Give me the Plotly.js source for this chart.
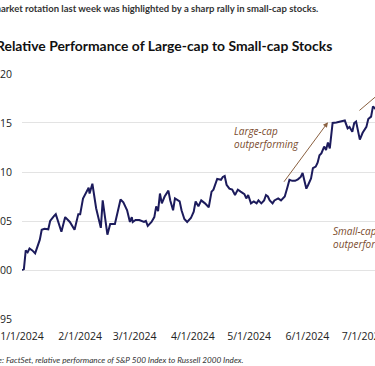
<!DOCTYPE html>
<html>
<head>
<meta charset="utf-8">
<script src="https://cdn.plot.ly/plotly-3.0.1.min.js"></script>
<style>
  html, body { margin: 0; padding: 0; background: #ffffff; overflow: hidden; }
  #chart { width: 375px; height: 366px; }
</style>
</head>
<body>
<div id="chart"></div>
<script>
// Relative performance (S&P 500 / Russell 2000), indexed to 100
const dates = [
  '2024-01-01','2024-01-02','2024-01-03','2024-01-04','2024-01-05','2024-01-06 12:00','2024-01-08','2024-01-09 12:00',
  '2024-01-10 12:00','2024-01-11 12:00','2024-01-13','2024-01-15','2024-01-16','2024-01-18','2024-01-19','2024-01-22',
  '2024-01-24','2024-01-26 12:00','2024-01-29','2024-01-31','2024-02-01','2024-02-02 12:00','2024-02-04','2024-02-05 12:00',
  '2024-02-06','2024-02-07 12:00','2024-02-09 12:00','2024-02-12','2024-02-13','2024-02-15 12:00','2024-02-17','2024-02-19 12:00',
  '2024-02-22 12:00','2024-02-24','2024-02-26','2024-02-27 12:00','2024-02-28 12:00','2024-02-29','2024-03-01 12:00','2024-03-03 12:00',
  '2024-03-06','2024-03-07','2024-03-08','2024-03-10','2024-03-11 12:00','2024-03-12 12:00','2024-03-13 12:00','2024-03-14 12:00',
  '2024-03-15 12:00','2024-03-17','2024-03-19','2024-03-20','2024-03-21 12:00','2024-03-22 12:00','2024-03-25','2024-03-26',
  '2024-03-27 12:00','2024-03-29','2024-03-31','2024-04-01 12:00','2024-04-02 12:00','2024-04-04','2024-04-05 12:00','2024-04-07 12:00',
  '2024-04-09 12:00','2024-04-11','2024-04-12','2024-04-13','2024-04-14','2024-04-16','2024-04-17','2024-04-18',
  '2024-04-19','2024-04-20 12:00','2024-04-22','2024-04-23 12:00','2024-04-25','2024-04-26 12:00','2024-04-28 12:00','2024-04-29 12:00',
  '2024-04-30 12:00','2024-05-02','2024-05-03 12:00','2024-05-05','2024-05-06','2024-05-07 12:00','2024-05-09','2024-05-10',
  '2024-05-11','2024-05-12','2024-05-13 12:00','2024-05-14 12:00','2024-05-16 12:00','2024-05-18','2024-05-20','2024-05-21 12:00',
  '2024-05-22 12:00','2024-05-24','2024-05-25 12:00','2024-05-27','2024-05-28 12:00','2024-05-29 12:00','2024-05-30 12:00','2024-05-31 12:00',
  '2024-06-01 12:00','2024-06-03','2024-06-04','2024-06-05 12:00','2024-06-06 12:00','2024-06-07 12:00','2024-06-08 12:00','2024-06-10',
  '2024-06-11','2024-06-12','2024-06-13','2024-06-14 12:00','2024-06-16 12:00','2024-06-19','2024-06-21','2024-06-22 12:00',
  '2024-06-23 12:00','2024-06-25','2024-06-26','2024-06-27','2024-06-29','2024-06-30 12:00','2024-07-02 12:00','2024-07-03 12:00',
  '2024-07-05','2024-07-06','2024-07-07','2024-07-09'
];
const relPerf = [
  100.0,100.1,102.0,101.8,102.2,102.0,101.7,102.65,
  103.1,104.1,104.2,104.15,105.0,105.5,105.7,103.9,
  105.4,104.9,104.1,105.7,105.7,107.3,107.8,108.4,
  107.8,108.8,106.3,104.3,107.1,103.6,104.7,104.7,
  107.2,106.9,106.1,104.9,105.4,104.9,105.1,105.1,
  104.9,105.0,104.5,104.9,105.4,106.5,106.0,107.8,
  106.8,107.5,108.1,107.1,106.1,107.3,107.0,106.1,
  105.2,104.9,105.3,105.95,107.0,106.5,107.1,106.8,
  106.4,108.0,108.2,108.7,109.3,109.2,109.5,109.6,
  108.7,108.3,108.2,107.65,108.2,108.0,107.75,107.3,
  107.65,106.8,107.0,106.8,107.1,106.8,107.1,107.65,
  107.5,107.1,106.8,107.1,107.3,107.1,107.5,108.5,
  109.2,109.1,109.1,109.25,109.5,109.9,109.0,108.3,
  108.7,109.35,110.4,110.55,110.95,111.7,111.9,112.6,
  112.25,113.0,112.4,115.0,115.05,115.15,115.25,114.45,
  114.6,114.1,115.0,115.15,113.3,114.0,114.6,115.4,
  115.65,116.7,116.5,116.9
];
const xTickDates = ['2024-01-01','2024-02-01','2024-03-01','2024-04-01','2024-05-01','2024-06-01','2024-07-01'];
const xTickLabels = ['1/1/2024','2/1/2024','3/1/2024','4/1/2024','5/1/2024','6/1/2024','7/1/2024'];
const yTickVals = [95,100,105,110,115,120];
const yTickLabels = ['95','100','105','110','115','120'];

const titleText = 'Relative Performance of Large-cap to Small-cap Stocks';
const subtitleText = 'market rotation last week was highlighted by a sharp rally in small-cap stocks.';
const sourceText = 'Source: FactSet, relative performance of S&P 500 Index to Russell 2000 Index.';

const brown = '#7a4b2c';
const tickFont = {family: 'Open Sans, sans-serif', size: 10.5, color: '#222222'};
const noteFont = {family: 'Open Sans, sans-serif', size: 10, color: brown};

const trace = {
  x: dates, y: relPerf, type: 'scatter', mode: 'lines',
  line: {color: '#1c1b5c', width: 2}, hoverinfo: 'skip'
};

const layout = {
  width: 375, height: 366,
  margin: {l: 22, r: 0, t: 73, b: 46},
  paper_bgcolor: '#ffffff', plot_bgcolor: '#ffffff',
  showlegend: false,
  xaxis: {
    type: 'date',
    range: ['2024-01-01', '2024-07-07 02:00'],
    tickvals: xTickDates, ticktext: xTickLabels,
    showgrid: false, zeroline: false, showline: false,
    ticks: 'outside', ticklen: 6, tickcolor: 'rgba(0,0,0,0)',
    ticklabeloverflow: 'allow',
    tickfont: tickFont
  },
  yaxis: {
    range: [94.9, 120.1],
    tickvals: yTickVals, ticktext: yTickLabels,
    showgrid: true, gridcolor: '#e3e3e3', gridwidth: 1,
    zeroline: false, showline: false,
    ticks: 'outside', ticklen: 7, tickcolor: 'rgba(0,0,0,0)',
    ticklabeloverflow: 'allow',
    tickfont: tickFont
  },
  annotations: [
    {text: '<b>' + titleText + '</b>', xref: 'paper', yref: 'paper', x: 0, y: 1,
     xanchor: 'left', yanchor: 'middle', xshift: -28, yshift: 28, showarrow: false,
     font: {family: 'Lato, sans-serif', size: 13.9, color: '#111111'}},
    {text: '<b>' + subtitleText + '</b>', xref: 'paper', yref: 'paper', x: 0, y: 1,
     xanchor: 'left', yanchor: 'middle', xshift: -31, yshift: 65, showarrow: false,
     font: {family: 'Lato, sans-serif', size: 9.5, color: '#333333'}},
    {text: '<i>' + sourceText + '</i>', xref: 'paper', yref: 'paper', x: 0, y: 0,
     xanchor: 'left', yanchor: 'middle', xshift: -45, yshift: -40, showarrow: false,
     font: {family: 'Lato, sans-serif', size: 8.2, color: '#333333'}},
    {text: '<i>Large-cap<br>outperforming</i>', xref: 'x', yref: 'y', x: '2024-04-22 12:00', y: 113.57,
     xanchor: 'left', yanchor: 'middle', align: 'left', showarrow: false, borderpad: 0, font: noteFont},
    {text: '<i>Small-cap<br>outperforming</i>', xref: 'x', yref: 'y', x: '2024-06-14 09:00', y: 103.32,
     xanchor: 'left', yanchor: 'middle', align: 'left', showarrow: false, borderpad: 0, font: noteFont},
    {text: '', xref: 'x', yref: 'y', x: '2024-06-12', y: 115.07,
     axref: 'x', ayref: 'y', ax: '2024-05-19', ay: 108.85,
     showarrow: true, arrowhead: 2, arrowsize: 1, arrowwidth: 1, arrowcolor: '#8a6040', standoff: 0, startstandoff: 0},
    {text: '', xref: 'x', yref: 'y', x: '2024-07-18', y: 119.4,
     axref: 'x', ayref: 'y', ax: '2024-06-28', ay: 116.15,
     showarrow: true, arrowhead: 2, arrowsize: 1, arrowwidth: 1, arrowcolor: '#8a6040', standoff: 0, startstandoff: 0}
  ]
};

Plotly.newPlot('chart', [trace], layout, {displayModeBar: false, staticPlot: true});
</script>
</body>
</html>
